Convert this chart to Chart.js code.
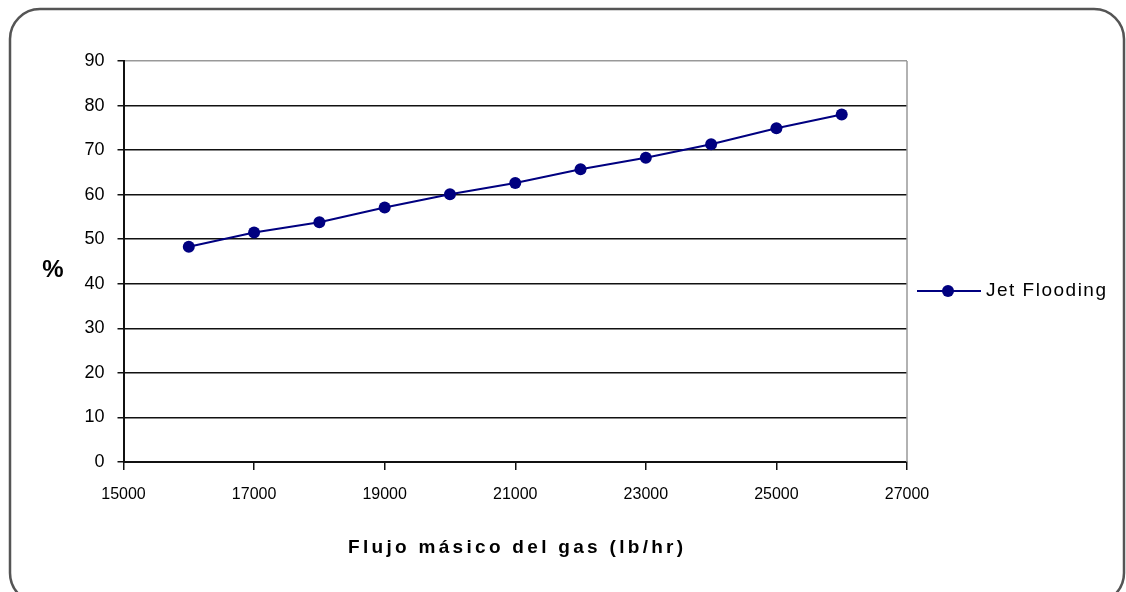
<!DOCTYPE html>
<html>
<head>
<meta charset="utf-8">
<script src="https://cdn.jsdelivr.net/npm/chart.js@4"></script>
<style>
  html, body { margin: 0; padding: 0; background: #fff; }
  #wrap { width: 1126px; height: 592px; }
</style>
</head>
<body>
<div id="wrap"><canvas id="grafico" width="1126" height="592"></canvas></div>
<script>
// Datos
const flujoGas = [16000, 17000, 18000, 19000, 20000, 21000, 22000, 23000, 24000, 25000, 26000];
const jetFlooding = [48.3, 51.5, 53.8, 57.1, 60.1, 62.6, 65.7, 68.3, 71.3, 74.9, 78.0];
const nombreSerie = "Jet Flooding";
const tituloX = "Flujo másico del gas (lb/hr)";
const tituloY = "%";

const fuente = 'Arial, "Liberation Sans", sans-serif';
const azul = "#000080";

// Marco redondeado, títulos y leyenda
const extras = {
  id: "extras",
  beforeDraw(chart) {
    const ctx = chart.ctx;
    ctx.save();
    ctx.fillStyle = "#fff";
    ctx.fillRect(0, 0, chart.width, chart.height);
    ctx.strokeStyle = "#555";
    ctx.lineWidth = 2.5;
    ctx.beginPath();
    ctx.roundRect(10, 9, 1114, 594, 30);
    ctx.stroke();
    ctx.restore();
  },
  afterDraw(chart) {
    const ctx = chart.ctx;
    const area = chart.chartArea;
    ctx.save();
    // borde derecho del área de trazado
    ctx.strokeStyle = "#999";
    ctx.lineWidth = 1.5;
    ctx.beginPath();
    ctx.moveTo(area.right, area.top);
    ctx.lineTo(area.right, area.bottom);
    ctx.stroke();

    ctx.fillStyle = "#000";
    ctx.textBaseline = "middle";

    // título eje Y
    ctx.font = "bold 24px " + fuente;
    ctx.textAlign = "center";
    ctx.fillText(tituloY, 53, 270);

    // título eje X
    ctx.font = "bold 19px " + fuente;
    ctx.letterSpacing = "3.3px";
    ctx.fillText(tituloX, (area.left + area.right) / 2 + 2, 548);

    // leyenda
    const ly = 291;
    ctx.letterSpacing = "0px";
    ctx.strokeStyle = azul;
    ctx.lineWidth = 2;
    ctx.beginPath();
    ctx.moveTo(917, ly);
    ctx.lineTo(981, ly);
    ctx.stroke();
    ctx.fillStyle = azul;
    ctx.beginPath();
    ctx.arc(948, ly, 6, 0, Math.PI * 2);
    ctx.fill();
    ctx.fillStyle = "#000";
    ctx.textAlign = "left";
    ctx.font = "19px " + fuente;
    ctx.letterSpacing = "1.5px";
    ctx.fillText(chart.data.datasets[0].label, 986, ly);
    ctx.restore();
  }
};

const puntos = flujoGas.map((x, i) => ({ x: x, y: jetFlooding[i] }));

new Chart(document.getElementById("grafico"), {
  type: "line",
  data: {
    datasets: [{
      label: nombreSerie,
      data: puntos,
      borderColor: azul,
      backgroundColor: azul,
      borderWidth: 2,
      pointRadius: 6,
      pointHoverRadius: 6,
      pointBackgroundColor: azul,
      pointBorderWidth: 0,
      tension: 0
    }]
  },
  options: {
    responsive: false,
    animation: false,
    layout: { padding: { left: 10, top: 61, right: 219, bottom: 0 } },
    plugins: {
      legend: { display: false },
      tooltip: { enabled: false }
    },
    scales: {
      x: {
        type: "linear",
        min: 15000,
        max: 27000,
        afterFit: s => { s.height = 130; },
        grid: { drawOnChartArea: false, drawTicks: true, tickLength: 8, tickColor: "#111", lineWidth: 1.5 },
        border: { color: "#111", width: 2 },
        ticks: {
          stepSize: 2000,
          padding: 15,
          color: "#000",
          font: { family: fuente, size: 16 },
          maxRotation: 0,
          callback: v => String(v)
        }
      },
      y: {
        min: 0,
        max: 90,
        afterFit: s => { s.width = 113.5; },
        grid: {
          color: c => (c.tick && c.tick.value === 90 ? "#999" : "#111"),
          lineWidth: 1.5,
          tickLength: 6,
          tickColor: "#111"
        },
        border: { color: "#111", width: 2 },
        ticks: {
          stepSize: 10,
          padding: 13,
          color: "#000",
          font: { family: fuente, size: 18 }
        }
      }
    }
  },
  plugins: [extras]
});
</script>
</body>
</html>
